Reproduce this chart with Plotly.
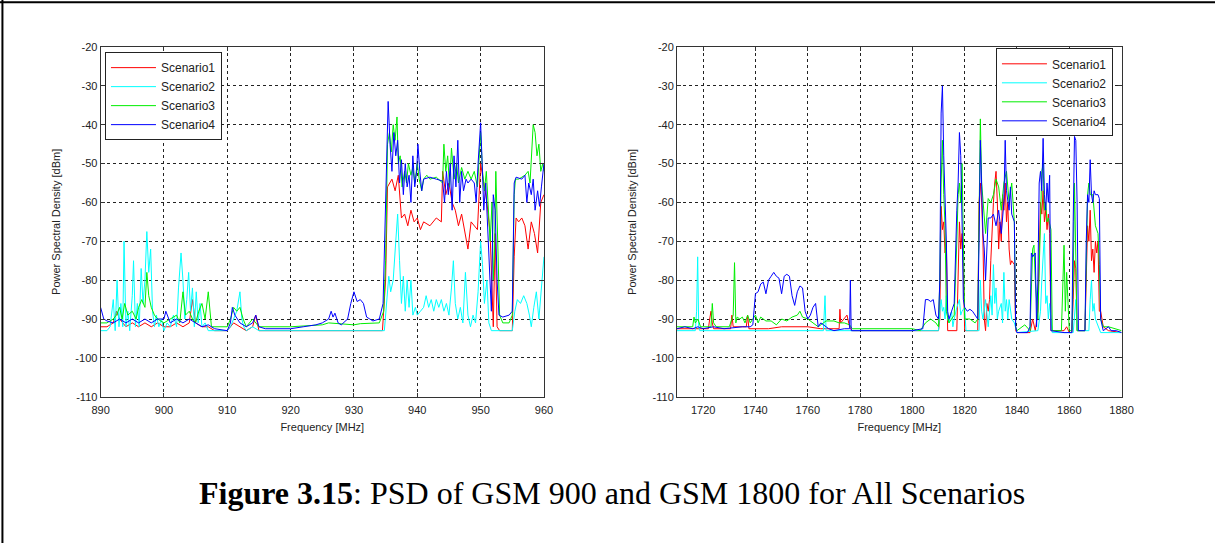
import plotly.graph_objects as go

# GSM 900 band, (frequency MHz, PSD dBm) per scenario
s1_gsm900 = [(890, -92), (891, -92), (892, -91), (892.5, -88), (893, -90), (893.5, -91), (894, -92), (895, -91),
             (896, -92), (897, -91), (898, -92), (899, -91), (900, -92), (901, -92), (902, -91), (903, -92),
             (904, -91), (904.5, -85), (905, -91), (906, -92), (907, -92), (908, -93), (910, -93), (911, -91),
             (912, -92), (913, -93), (914, -92), (914.5, -89), (915, -93), (920, -93), (934.5, -93), (935, -80),
             (935.3, -56), (936, -54), (936.5, -57), (937, -53), (937.5, -64), (938, -63), (938.5, -66), (939, -62),
             (939.5, -65), (940, -64), (940.5, -67), (941, -65), (942, -66), (943, -64), (943.8, -65), (944, -52),
             (944.5, -58), (945, -55), (945.5, -60), (946, -62), (946.5, -66), (947, -63), (947.5, -68), (948, -72),
             (948.5, -65), (949, -66), (949.5, -67), (950, -50), (950.5, -55), (951, -60), (951.5, -68), (951.8, -80),
             (952, -92), (952.3, -68), (952.6, -92), (953, -93), (955, -93), (955.3, -74), (955.6, -64), (956, -65),
             (956.5, -64), (957, -66), (957.5, -72), (958, -65), (958.5, -68), (959, -73), (959.5, -60), (960, -58)]

s2_gsm900 = [(890, -93), (891, -93), (891.5, -92), (892, -85), (892.3, -93), (892.6, -80), (892.9, -92), (893.2, -86),
             (893.5, -92), (893.7, -70), (894, -92), (894.3, -88), (894.6, -93), (895, -84), (895.2, -75), (895.5, -92),
             (895.8, -86), (896.1, -92), (896.4, -77), (896.7, -86), (897, -80), (897.3, -67.5), (897.6, -78),
             (897.9, -72), (898.2, -88), (898.5, -92), (898.8, -89), (899.2, -92), (899.6, -90), (900, -93),
             (900.5, -91), (901, -92), (901.5, -89), (902, -92), (902.3, -82), (902.7, -73), (903, -80), (903.3, -90),
             (903.6, -85), (903.9, -78), (904.2, -88), (904.5, -82), (904.8, -92), (905.1, -83), (905.4, -91),
             (905.7, -86), (906, -92), (906.5, -91), (907, -93), (910, -93), (910.5, -92), (911, -90), (911.5, -88),
             (912, -83), (912.3, -90), (912.6, -92), (913, -93), (914, -92), (915, -93), (934.8, -93), (935.2, -85),
             (935.5, -79), (935.8, -83), (936.2, -80), (936.6, -70), (936.9, -63), (937.2, -75), (937.5, -86),
             (937.8, -79), (938.1, -88), (938.4, -80), (938.7, -87), (939, -80), (939.3, -89), (939.7, -87),
             (940, -89), (940.5, -88), (941, -87), (941.4, -84), (941.8, -87), (942.2, -85), (942.6, -88), (943, -85),
             (943.4, -87), (943.8, -85), (944.2, -88), (944.6, -86), (945, -89), (945.4, -82), (945.7, -75),
             (946, -86), (946.4, -90), (946.8, -87), (947.2, -91), (947.6, -78), (948, -89), (948.4, -92),
             (948.8, -89), (949.2, -91), (949.6, -83), (950, -70), (950.3, -76), (950.6, -86), (951, -80),
             (951.3, -91), (951.7, -93), (955, -93), (955.4, -88), (955.8, -85), (956.3, -86), (956.8, -84),
             (957.3, -86), (957.7, -89), (958, -92), (958.4, -87), (958.8, -83), (959.2, -90), (959.5, -84),
             (959.8, -78), (960, -74)]

s3_gsm900 = [(890, -91), (891, -91), (892, -90), (892.5, -89), (893, -87), (893.4, -90), (893.8, -86), (894.3, -89),
             (895, -88), (895.6, -90), (896, -87), (896.5, -85), (897, -87), (897.3, -78), (897.6, -84), (898, -87),
             (898.5, -89), (899, -90), (900, -91), (901, -90), (902, -89), (902.5, -91), (903, -83), (903.4, -89),
             (904, -88), (904.5, -90), (905, -91), (905.5, -88), (906, -86), (906.5, -90), (907, -83), (907.5, -92),
             (910, -92), (910.5, -90), (911, -87), (911.5, -88), (912, -87), (912.5, -90), (913, -92), (914, -90),
             (915, -92), (920, -92), (925, -91.5), (926, -91), (930, -91.5), (931, -91.2), (934, -91), (934.7, -88),
             (935, -75), (935.3, -45), (935.6, -42), (935.9, -47), (936.2, -40), (936.5, -44), (936.8, -38),
             (937, -50), (937.3, -48), (937.6, -56), (938, -52), (938.3, -55), (938.6, -50), (939, -53), (939.3, -51),
             (939.6, -55), (940, -50), (940.3, -54), (940.7, -57), (941, -54), (941.5, -53), (942, -54),
             (943, -53.5), (944, -55), (944.2, -45), (944.5, -52), (944.8, -48), (945.1, -56), (945.4, -46),
             (945.8, -54), (946.2, -50), (946.5, -55), (947, -51), (947.5, -54), (948, -52), (948.5, -54), (949, -52),
             (949.5, -56), (949.8, -48), (950, -42), (950.3, -52), (950.6, -57), (950.9, -52), (951.2, -60),
             (951.5, -70), (951.8, -60), (952, -80), (952.2, -72), (952.4, -52), (952.7, -70), (953, -89),
             (953.5, -91), (954.5, -91), (955, -89), (955.3, -58), (955.5, -54), (956, -54), (957, -53),
             (957.5, -52), (957.8, -55), (958, -50), (958.3, -40), (958.6, -42), (958.9, -48), (959.2, -45),
             (959.5, -52), (959.8, -50), (960, -52)]

s4_gsm900 = [(890, -87), (890.5, -90), (891, -90.5), (892, -91), (893, -90), (894, -91), (895, -90), (896, -91),
             (897, -90), (898, -91), (899, -90), (900, -90), (900.3, -88), (901, -91), (902, -90), (903, -91),
             (904, -90), (905, -91), (906, -92), (907, -91.5), (908, -92.5), (910, -93), (910.5, -91), (910.8, -87),
             (911.2, -89), (911.6, -90), (912, -91), (913, -92), (914, -91), (914.5, -89), (915, -92), (916, -92.5),
             (920, -92.5), (922, -92), (924, -91.5), (925, -91), (926, -90), (926.4, -88), (926.7, -89.5),
             (927, -88.5), (927.5, -91), (928, -91.5), (929, -90), (929.5, -86), (930, -83), (930.5, -85.5),
             (931, -85), (931.5, -86), (932, -89.5), (932.5, -90), (933, -90.5), (934, -90), (934.6, -86),
             (935, -60), (935.2, -42), (935.4, -34), (935.7, -45), (936, -52), (936.3, -42), (936.6, -48),
             (936.9, -44), (937.2, -55), (937.5, -49), (937.8, -58), (938.1, -50), (938.4, -56), (938.7, -53),
             (939, -60), (939.3, -48), (939.6, -56), (939.9, -52), (940.1, -45), (940.4, -52), (940.7, -57),
             (941, -54), (942, -53.5), (943, -54), (944, -54.5), (944.3, -60), (944.6, -52), (944.9, -58),
             (945.2, -50), (945.5, -62), (945.8, -48), (946.1, -56), (946.4, -44), (946.7, -60), (947, -52),
             (947.3, -57), (947.7, -54), (948, -55), (948.5, -54), (949, -55), (949.3, -60), (949.6, -50),
             (949.8, -45), (950, -39.5), (950.2, -48), (950.5, -62), (950.8, -55), (951.1, -65), (951.4, -75),
             (951.7, -88), (952, -58), (952.3, -62), (952.6, -80), (952.9, -89), (953.5, -89.5), (954.5, -89),
             (955, -88), (955.3, -55), (955.6, -53.5), (956.5, -54), (957, -53), (957.3, -60), (957.6, -55),
             (958, -58), (958.3, -54), (958.6, -62), (959, -57), (959.3, -61), (959.6, -56), (960, -50)]

# GSM 1800 band
s1_gsm1800 = [(1710, -92.5), (1722, -92.5), (1722.5, -90), (1723, -88), (1723.5, -91), (1724, -92.5), (1730.5, -92.5),
              (1731, -89), (1731.5, -92), (1736.5, -92), (1737, -89), (1737.5, -92.5), (1745, -92.5), (1750, -92),
              (1760, -92), (1765, -92.5), (1772, -92.5), (1772.3, -87.5), (1772.6, -91), (1775, -89), (1776, -92),
              (1777, -93), (1810, -93), (1810.5, -90), (1811, -61), (1811.5, -67), (1812, -65), (1812.5, -73),
              (1813, -70), (1813.5, -93), (1817, -93), (1817.5, -78), (1818, -65), (1818.5, -72), (1819, -68),
              (1819.5, -77), (1820, -93), (1825, -93), (1825.5, -60), (1826, -55), (1826.5, -60), (1827, -70),
              (1827.5, -90), (1828, -93), (1828.5, -86), (1829, -88), (1829.5, -85), (1830, -75), (1830.5, -65),
              (1831, -60), (1831.5, -55), (1832, -52), (1832.5, -60), (1833, -72), (1833.5, -65), (1834, -70),
              (1834.5, -58), (1835, -62), (1835.5, -55), (1836, -65), (1836.5, -60), (1837, -72), (1837.5, -76),
              (1838, -75), (1839, -76), (1839.5, -93), (1840, -93.5), (1845, -93.5), (1846, -90), (1847, -93),
              (1848, -88), (1849, -60), (1849.5, -63), (1850, -57), (1850.5, -65), (1851, -62), (1851.5, -67),
              (1852, -63), (1852.5, -68), (1853, -93), (1858, -93), (1859, -92), (1860, -93.5), (1861, -93.5),
              (1861.5, -85), (1862, -75), (1862.5, -77), (1863, -93), (1866, -93), (1866.5, -80), (1867, -66),
              (1867.5, -70), (1868, -62), (1868.5, -75), (1869, -72), (1869.5, -78), (1870, -70), (1870.5, -73),
              (1871, -70), (1871.5, -88), (1872, -88), (1873, -92), (1875, -93), (1880, -93.5)]

s2_gsm1800 = [(1710, -93), (1717, -93), (1717.5, -88), (1717.9, -74), (1718.3, -92), (1718.7, -93), (1766, -93),
              (1766.3, -88), (1766.6, -84), (1767, -93), (1810, -93), (1810.5, -88), (1811, -85), (1811.5, -88),
              (1812, -87), (1812.5, -90), (1813, -84), (1813.5, -90), (1814, -91), (1815, -88), (1815.5, -92),
              (1816, -90), (1817, -87), (1818, -85), (1818.5, -89), (1819, -88), (1820, -87), (1820.5, -93),
              (1825.5, -93), (1826, -80), (1826.5, -88), (1827, -90), (1828, -85), (1829, -92), (1830, -84),
              (1830.5, -89), (1831, -76), (1831.5, -86), (1832, -82), (1832.5, -90), (1833, -88), (1834, -86),
              (1834.5, -91), (1835, -78), (1835.5, -88), (1836, -85), (1836.5, -90), (1837, -85), (1838, -90),
              (1839, -91), (1840, -93.5), (1848, -93), (1849, -88), (1849.5, -80), (1850, -74), (1850.5, -68),
              (1851, -86), (1851.5, -84), (1852, -90), (1852.5, -86), (1853, -90), (1853.5, -93.5), (1861.5, -93.5),
              (1862, -90), (1862.5, -85), (1863, -93), (1867.5, -93), (1868, -85), (1868.5, -80), (1869, -88),
              (1869.5, -86), (1870, -90), (1871, -92), (1872, -93.5), (1880, -93.5)]

s3_gsm1800 = [(1710, -92), (1716, -92), (1716.5, -89.5), (1717, -91), (1718, -90), (1719, -92), (1723, -92),
              (1723.5, -86), (1724, -91), (1725, -92), (1730, -92), (1731.5, -89), (1732, -75.5), (1732.5, -91),
              (1733, -89.5), (1734, -90), (1735, -89.5), (1736, -91), (1737, -89), (1738, -91), (1739, -90),
              (1740, -89), (1741, -91), (1742, -89.5), (1744, -90.5), (1746, -90.5), (1748, -91.5), (1750, -90),
              (1752, -90.5), (1754, -89.5), (1756, -89), (1757, -88), (1758, -89.5), (1760, -90), (1762, -91),
              (1764, -92), (1766, -91), (1767, -90.5), (1770, -90.5), (1772, -91), (1774, -91), (1776, -91.5),
              (1777, -92.5), (1800, -92.5), (1803, -93), (1805, -91), (1807, -90), (1809, -91), (1810, -92),
              (1810.5, -80), (1811, -55), (1811.5, -44), (1812, -58), (1812.5, -66), (1813, -88), (1814, -91),
              (1815, -90), (1816, -89), (1817, -70), (1817.5, -58), (1818, -55), (1818.5, -60), (1819, -50),
              (1819.5, -70), (1820, -90), (1822, -90), (1824, -91), (1825, -90), (1825.5, -60), (1826, -38.5),
              (1826.5, -55), (1827, -60), (1828, -68), (1829, -59), (1830, -60), (1831, -58), (1832, -54),
              (1833, -56), (1834, -62), (1835, -55), (1836, -52), (1837, -60), (1838, -55), (1839, -65),
              (1839.5, -92), (1840, -93), (1842, -92), (1843, -91.5), (1845, -93), (1846, -72), (1846.5, -71),
              (1847, -80), (1848, -90), (1849, -60), (1849.5, -52), (1850, -50), (1850.5, -62), (1851, -60),
              (1851.5, -65), (1852, -64), (1853, -67), (1853.5, -93), (1857, -93), (1858, -71), (1858.5, -88),
              (1859, -78), (1859.5, -88), (1860, -93), (1861, -93), (1861.5, -80), (1862, -55), (1862.5, -70),
              (1863, -93), (1866, -93), (1866.5, -75), (1867, -58), (1867.5, -55), (1868, -58), (1869, -58),
              (1870, -66), (1871, -68), (1871.5, -76), (1872, -90), (1873, -92), (1875, -92), (1880, -93)]

s4_gsm1800 = [(1710, -92.5), (1713, -92), (1716, -92.5), (1718, -92), (1720, -92.5), (1724, -92), (1728, -92.5),
              (1735, -92), (1738, -92), (1739, -91.5), (1740, -83.5), (1741, -83), (1742, -81), (1743, -80.5),
              (1744, -83.5), (1745, -80), (1746, -79), (1747, -78), (1748, -79), (1749, -79.5), (1750, -83.5),
              (1751, -79), (1752, -78.5), (1753, -79), (1754, -84), (1755, -86.5), (1756, -83), (1757, -81.5),
              (1758, -82), (1759, -88), (1760, -90), (1761, -89), (1762, -87), (1763, -86), (1764, -92),
              (1765, -91), (1767, -92), (1768, -92.5), (1770, -93), (1774, -92.5), (1776, -92.5), (1776.3, -80),
              (1776.6, -93), (1780, -93), (1790, -93), (1800, -93), (1804, -92.5), (1805, -85), (1806, -85),
              (1807, -85.5), (1808, -85), (1809, -89), (1810, -90), (1810.5, -80), (1811, -37), (1811.5, -30),
              (1812, -48), (1812.5, -58), (1813, -70), (1813.5, -88), (1814, -90), (1815, -88), (1816, -86),
              (1817, -62), (1817.5, -55), (1818, -42), (1818.5, -48), (1819, -65), (1819.5, -85), (1820, -87),
              (1821, -88), (1822, -87.5), (1823, -88), (1824, -89), (1825, -90), (1825.5, -70), (1826, -44),
              (1826.5, -56), (1827, -68), (1827.5, -72), (1828, -80), (1829, -64), (1830, -64), (1831, -63),
              (1832, -66), (1833, -62), (1834, -68), (1835, -60), (1835.5, -44), (1836, -57), (1837, -62),
              (1837.5, -56), (1838, -63), (1839, -65), (1839.5, -92), (1840, -93.5), (1844, -93.5), (1845, -92),
              (1845.5, -73), (1846, -74), (1847, -73), (1847.5, -92), (1848, -80), (1848.5, -55), (1849, -52),
              (1849.5, -57), (1850, -43.5), (1850.5, -58), (1851, -62), (1851.5, -55), (1852, -60), (1852.5, -53),
              (1853, -93), (1858, -93.5), (1861, -93.5), (1861.5, -65), (1862, -43), (1862.5, -44), (1863, -60),
              (1863.5, -93), (1866, -93), (1866.5, -70), (1867, -58), (1867.5, -60), (1868, -49), (1868.5, -58),
              (1869, -60), (1869.5, -57), (1870, -58), (1871, -58), (1871.5, -59), (1872, -90), (1873, -93),
              (1874, -92.5), (1875, -92), (1876, -93), (1878, -93), (1880, -93.5)]

names = ["Scenario1", "Scenario2", "Scenario3", "Scenario4"]
colors = ["#ff0000", "#00ffff", "#00ee00", "#0000ff"]
y_ticks = [-110, -100, -90, -80, -70, -60, -50, -40, -30, -20]
x_ticks_900 = [890, 900, 910, 920, 930, 940, 950, 960]
x_ticks_1800 = [1720, 1740, 1760, 1780, 1800, 1820, 1840, 1860, 1880]

fig = go.Figure()

panels = [
    ([s1_gsm900, s2_gsm900, s3_gsm900, s4_gsm900], "x", "y", "legend"),
    ([s1_gsm1800, s2_gsm1800, s3_gsm1800, s4_gsm1800], "x2", "y2", "legend2"),
]
for series, xa, ya, leg in panels:
    for pts, name, col in zip(series, names, colors):
        fig.add_trace(go.Scatter(
            x=[p[0] for p in pts], y=[p[1] for p in pts], mode="lines", name=name,
            line=dict(color=col, width=1), xaxis=xa, yaxis=ya, legend=leg,
        ))

tick_font = dict(family="Liberation Sans, Arial", size=11, color="#222")
axis_common = dict(
    showline=True, linecolor="#333", linewidth=1, mirror="allticks", ticks="inside", ticklen=4,
    tickcolor="#333", showgrid=True, gridcolor="#222", griddash="3px,3px", gridwidth=1,
    zeroline=False, tickfont=tick_font, automargin=False,
)
y_labels = [str(v) for v in y_ticks]
legend_font = dict(family="Liberation Sans, Arial", size=12, color="#222")

fig.update_layout(
    width=1215, height=543, paper_bgcolor="white", plot_bgcolor="white",
    margin=dict(l=0, r=0, t=0, b=0, autoexpand=False), showlegend=True,
    xaxis=dict(domain=[0.0828, 0.4477], range=[890, 960], tickvals=x_ticks_900, ticklabelstandoff=3,
               title=dict(text="Frequency [MHz]", font=tick_font, standoff=8), anchor="y", **axis_common),
    yaxis=dict(domain=[0.2694, 0.9134], range=[-110, -20], tickvals=y_ticks, ticktext=y_labels,
               title=dict(text="Power Spectral Density [dBm]", font=tick_font, standoff=12), anchor="x", **axis_common),
    xaxis2=dict(domain=[0.5572, 0.9231], range=[1710, 1880], tickvals=x_ticks_1800, ticklabelstandoff=3,
                title=dict(text="Frequency [MHz]", font=tick_font, standoff=8), anchor="y2", **axis_common),
    yaxis2=dict(domain=[0.2694, 0.9134], range=[-110, -20], tickvals=y_ticks, ticktext=y_labels,
                title=dict(text="Power Spectral Density [dBm]", font=tick_font, standoff=12), anchor="x2", **axis_common),
    legend=dict(x=0.0864, y=0.904, xanchor="left", yanchor="top", bgcolor="white", bordercolor="#222",
                borderwidth=1, font=legend_font, tracegroupgap=0, itemwidth=45),
    legend2=dict(x=0.9160, y=0.911, xanchor="right", yanchor="top", bgcolor="white", bordercolor="#222",
                 borderwidth=1, font=legend_font, tracegroupgap=0, itemwidth=45),
)

# caption
fig.add_annotation(
    x=0.504, y=0.0921, xref="paper", yref="paper", xanchor="center", yanchor="middle", showarrow=False,
    text="<b>Figure 3.15</b>: PSD of GSM 900 and GSM 1800 for All Scenarios",
    font=dict(family="Liberation Serif, Times New Roman", size=32, color="black"),
)

# page frame (top and left edges)
fig.add_shape(type="line", xref="paper", yref="paper", x0=0, x1=1, y0=0.996, y1=0.996,
              line=dict(color="black", width=2))
fig.add_shape(type="line", xref="paper", yref="paper", x0=0.002, x1=0.002, y0=0, y1=1,
              line=dict(color="black", width=2))

fig.write_html("out.html", config={"displayModeBar": False},
               post_script="document.body.style.margin = '0';")
